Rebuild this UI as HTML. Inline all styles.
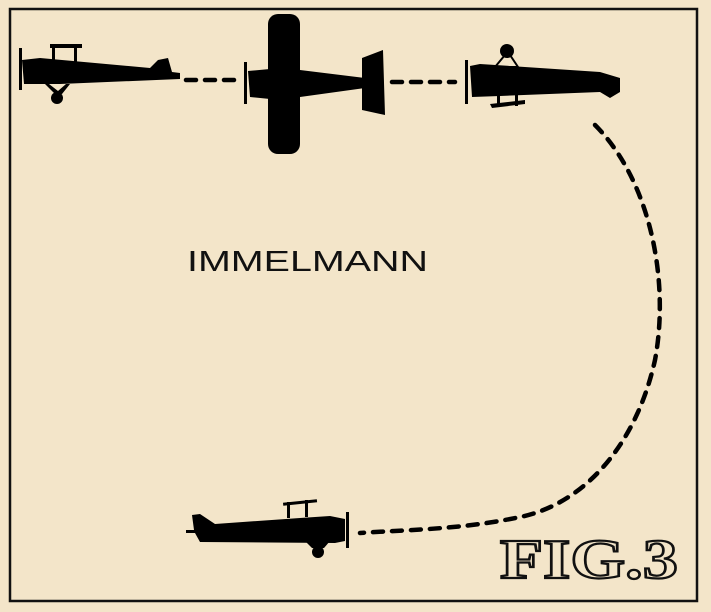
<!DOCTYPE html>
<html><head><style>
html,body{margin:0;padding:0;background:#f3e5c9;}
svg{display:block}
</style></head><body>
<svg width="711" height="612" viewBox="0 0 711 612" xmlns="http://www.w3.org/2000/svg">
<rect width="711" height="612" fill="#f3e5c9"/>
<rect x="10" y="9" width="687" height="592" fill="none" stroke="#111" stroke-width="2.5"/>
<g fill="#000">
<!-- plane 1 -->
<rect x="19" y="48" width="3" height="42"/>
<path d="M22 60 L40 58 L150 68 L158 60 L168 58 L172 72 L180 73 L180 79 L60 84 L24 84 Z"/>
<rect x="50" y="44" width="32" height="4"/>
<rect x="52" y="44" width="3" height="18"/><rect x="74" y="44" width="3" height="18"/>
<path d="M45 84 L55 94 L62 94 L70 84 L66 84 L58 91 L49 84Z"/>
<circle cx="57" cy="98" r="6"/>
<!-- plane 2 -->
<rect x="244" y="62" width="3" height="42"/>
<path d="M248 71 L270 69 L300 70 L365 78 L365 88 L300 97 L270 99 L250 97 Z"/>
<rect x="268" y="14" width="32" height="140" rx="10"/>
<path d="M362 58 L383 50 L385 115 L362 110 Z"/>
<!-- plane 3 -->
<rect x="465" y="60" width="3" height="44"/>
<path d="M470 66 L480 64 L600 72 L620 78 L620 92 L610 98 L600 92 L500 96 L472 97 Z"/>
<circle cx="507" cy="51" r="7"/>
<path d="M495 67 L505 55 L510 55 L518 67Z" fill="none" stroke="#000" stroke-width="2"/>
<rect x="497" y="93" width="3" height="13"/><rect x="515" y="93" width="3" height="13"/>
<path d="M490 104 L525 100 L525 104 L492 108Z"/>
<!-- bottom plane -->
<rect x="346" y="512" width="3" height="36"/>
<path d="M186 530 L194 530 L192 515 L200 514 L215 524 L300 518 L330 516 L345 519 L345 541 L335 543 L200 542 L195 533 L186 533Z"/>
<rect x="283" y="501" width="34" height="3" transform="rotate(-6 300 502)"/>
<rect x="287" y="502" width="3" height="16"/><rect x="305" y="500" width="3" height="17"/>
<path d="M305 541 L312 548 L324 548 L330 541Z"/>
<circle cx="318" cy="552" r="6"/>
</g>
<g fill="none" stroke="#000" stroke-width="4.5" stroke-dasharray="10 9" stroke-linecap="round">
<line x1="186" y1="80" x2="238" y2="80"/>
<line x1="392" y1="82" x2="455" y2="82"/>
<path d="M595 125 C650 180 670 280 655 360 C635 450 580 505 520 517 C460 530 400 530 360 533"/>
</g>
<text x="187" y="271" font-family="Liberation Sans, sans-serif" font-size="29" fill="#111" textLength="241" lengthAdjust="spacingAndGlyphs">IMMELMANN</text>
<text x="500" y="578" font-family="Liberation Serif, serif" font-size="56" font-weight="bold" fill="#f3e5c9" stroke="#111" stroke-width="2.2" textLength="178" lengthAdjust="spacingAndGlyphs">FIG.3</text>
</svg>
</body></html>
